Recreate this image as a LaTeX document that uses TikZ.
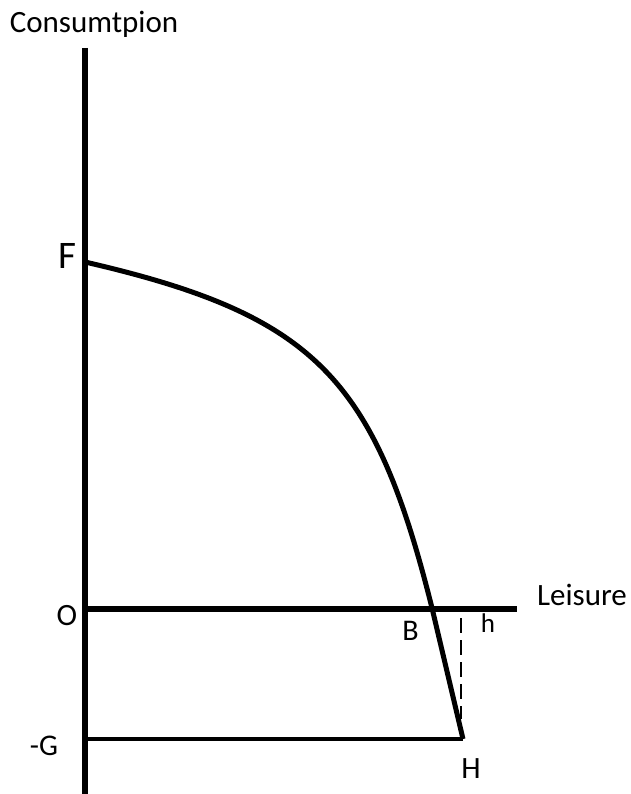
\documentclass[tikz,border=0pt]{standalone}
\usepackage{fontspec}
\setmainfont{Carlito}
\definecolor{ink}{HTML}{000000}
\newcommand{\Axis}{5.5pt}
\newcommand{\Curve}{5pt}
\newcommand{\Label}[1]{\fontsize{#1}{#1}\selectfont}
\tikzset{
  lbl/.style={anchor=base, inner sep=0pt, text=ink, font=\Label{31}},
}

\begin{document}
\begin{tikzpicture}[x=1pt,y=-1pt, line join=round, line cap=butt]
  \useasboundingbox (0,0) rectangle (630,794);

  % ---- key points ---------------------------------------------------------
  \coordinate (top)  at (85,48);
  \coordinate (bot)  at (85,794);
  \coordinate (O)    at (85,609);
  \coordinate (end)  at (517,609);
  \coordinate (F)    at (85,262);
  \coordinate (B)    at (432,608);
  \coordinate (H)    at (463,739);
  \coordinate (G)    at (85,739);
  \coordinate (dtop) at (461,618);
  \coordinate (dbot) at (461,719);

  % ---- axes ---------------------------------------------------------------
  \draw[ink,line width=\Axis] (top) -- (bot);
  \draw[ink,line width=\Axis] (O) -- (end);
  \draw[ink,line width=3.5pt] (G) -- (H);

  % ---- budget frontier ----------------------------------------------------
  \draw[ink,line width=\Curve] (F) .. controls (315,315) and (374.5,378) .. (B) -- (H);
  \draw[ink,line width=1.5pt,dash pattern=on 15pt off 7pt] (dtop) -- (dbot);

  % ---- labels -------------------------------------------------------------
  \node[lbl] (cons) at (94,33) {Consumtpion};
  \node[lbl,font=\Label{39}] (lF) at (67,268) {F};
  \node[lbl] (lO) at (67,625) {O};
  \node[lbl] (leis) at (582,605) {Leisure};
  \node[lbl,font=\Label{30}] (lB) at (410.5,640) {B};
  \node[lbl,font=\Label{27}] (lh) at (488,632) {h};
  \node[lbl,font=\Label{30}] (lG) at (44,755) {-G};
  \node[lbl] (lH) at (471,778) {H};

\end{tikzpicture}
\end{document}
